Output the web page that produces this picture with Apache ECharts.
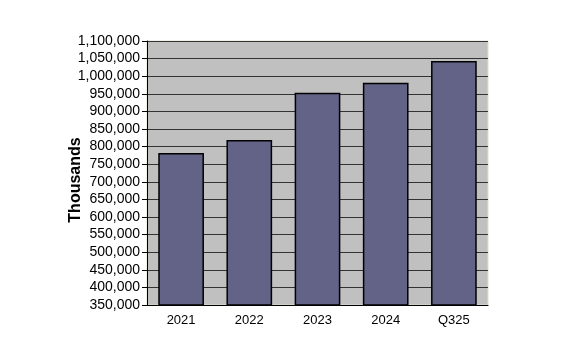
<!DOCTYPE html>
<html><head><meta charset="utf-8">
<script src="https://cdn.jsdelivr.net/npm/echarts@6/dist/echarts.min.js"></script>
<style>html,body{margin:0;padding:0;background:#fff}#c{width:573px;height:356px}</style>
</head><body><div id="c"></div>
<script>
const categories = ['2021','2022','2023','2024','Q325'];
const values = [782000, 819000, 953000, 981500, 1043000];
const yMin = 350000, yMax = 1100000, yStep = 50000;
const yTitle = 'Thousands';

const chart = echarts.init(document.getElementById('c'), null, {renderer:'canvas'});
chart.setOption({
  animation:false,
  grid:{left:147, top:41, width:341, height:264, backgroundColor:'#c0c0c0', show:true, borderColor:'#e0e0d0', borderWidth:1},
  graphic:[{type:'text', x:76, y:180, rotation:Math.PI/2,
    style:{text:yTitle, fontFamily:'Liberation Sans, Arial', fontSize:16, fontWeight:'bold', fill:'#000', align:'center', verticalAlign:'middle'}}],
  xAxis:{type:'category', data:categories,
    axisLine:{lineStyle:{color:'#000', width:1}}, axisTick:{show:false},
    axisLabel:{color:'#000', fontFamily:'Liberation Sans, Arial', fontSize:13, margin:9}},
  yAxis:{type:'value', min:yMin, max:yMax, interval:yStep,
    axisLine:{show:true, lineStyle:{color:'#000', width:1}},
    axisTick:{show:true, length:5, lineStyle:{color:'#000'}},
    axisLabel:{color:'#000', fontFamily:'Liberation Sans, Arial', fontSize:14, margin:7,
      formatter:v=>v.toLocaleString('en-US')},
    splitLine:{lineStyle:{color:'#333', width:1}}},
  series:[{type:'bar', data:values, barWidth:'67%',
    itemStyle:{color:'#636287', borderColor:'#000', borderWidth:1.5}}]
});
</script></body></html>
